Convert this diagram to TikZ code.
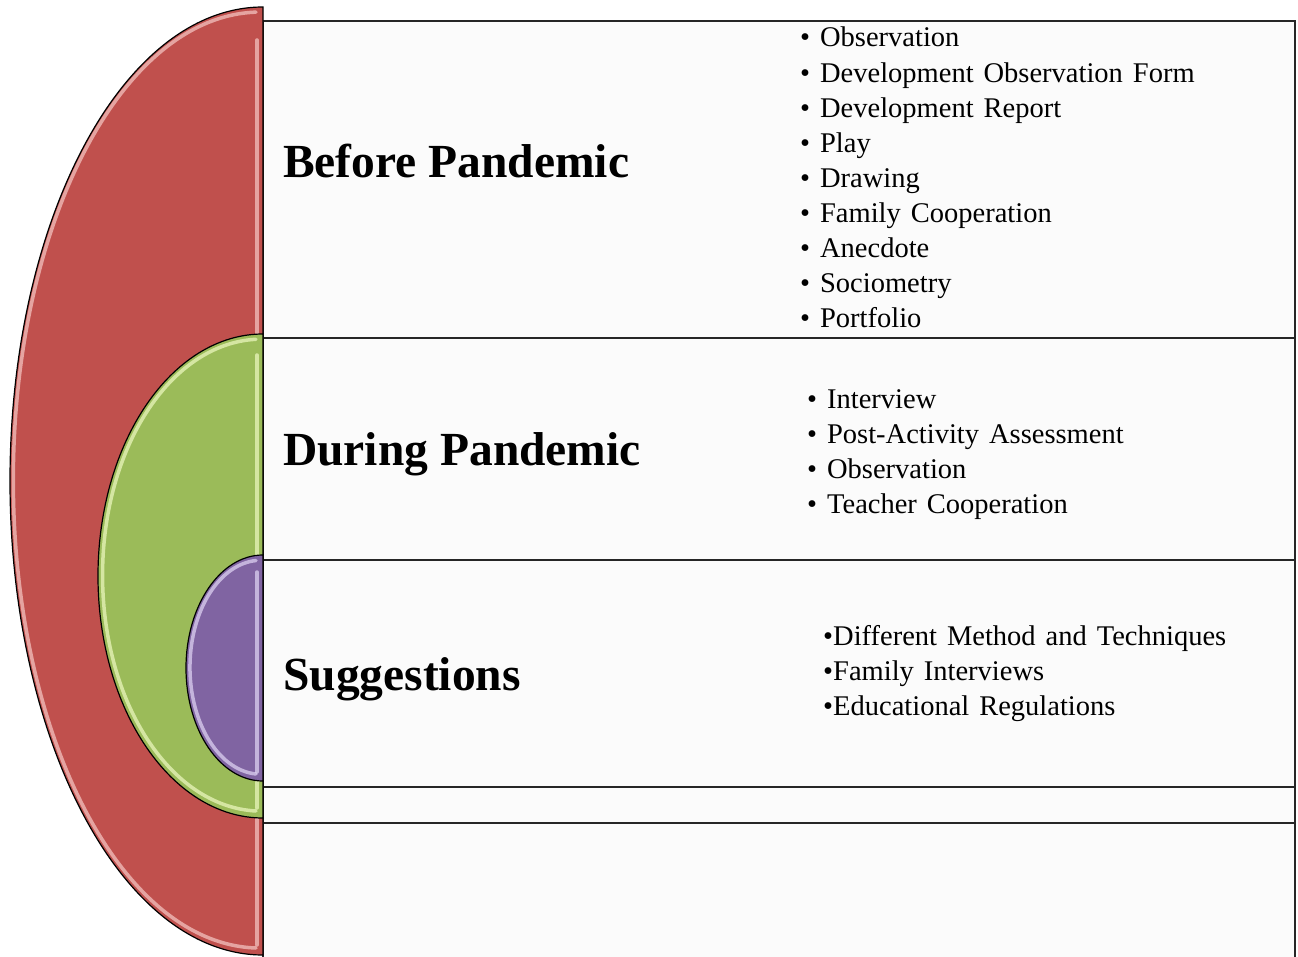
\documentclass[tikz,border=0pt]{standalone}
\usepackage{fontspec}
\setmainfont{Liberation Serif}
\newfontfamily\listfont{Liberation Serif}[WordSpace=1.4]

\definecolor{rotton}{HTML}{C0504D}
\definecolor{rothell}{HTML}{F6C9C6}
\definecolor{gruenton}{HTML}{9BBB59}
\definecolor{gruenhell}{HTML}{EEF9C2}
\definecolor{lilaton}{HTML}{8064A2}
\definecolor{lilahell}{HTML}{E2D6F5}
\definecolor{kasten}{HTML}{FBFBFB}

\tikzset{
    kopf/.style={anchor=base west, inner sep=0pt, font=\bfseries\fontsize{47.5}{50}\selectfont},
    punkt/.style={anchor=base west, inner sep=0pt, font=\listfont\fontsize{28.5}{34}\selectfont},
    feld/.style={draw=black!85, line width=1.8pt, fill=kasten},
    glanz/.style={line width=3.5pt, opacity=0.7, line cap=round}
}

\begin{document}
\begin{tikzpicture}[x=1pt, y=-1pt]
        \useasboundingbox (0, 0) rectangle (1298, 957);
        \clip (0, 0) rectangle (1298, 957);
        \fill[white] (0, 0) rectangle (1298, 957);

        % Kaesten
        \draw[feld] (263, 21) rectangle (1295, 338);
        \draw[feld] (263, 338) rectangle (1295, 560);
        \draw[feld] (263, 560) rectangle (1295, 787);
        \draw[feld] (263, 787) rectangle (1295, 823);
        \draw[feld] (263, 823) rectangle (1295, 975);

        % Halbkreis rot
        \draw[fill=rotton, line width=1.2pt] (263, 955) arc[start angle=90, end angle=270, x radius=253, y radius=474] -- cycle;
        \draw[glanz, rothell] (256, 948) arc[start angle=91, end angle=269, x radius=247, y radius=468];
        \draw[glanz, rothell] (257, 40) -- (257, 945);

        % Halbkreis gruen
        \draw[fill=gruenton, line width=1.2pt] (263, 818) arc[start angle=90, end angle=270, x radius=165, y radius=242] -- cycle;
        \draw[glanz, gruenhell] (256, 811) arc[start angle=92, end angle=268, x radius=159, y radius=236];
        \draw[glanz, gruenhell] (257, 355) -- (257, 808);

        % Halbkreis lila
        \draw[fill=lilaton, line width=1.2pt] (263, 781) arc[start angle=90, end angle=270, x radius=77, y radius=113] -- cycle;
        \draw[glanz, lilahell] (256, 774) arc[start angle=94, end angle=266, x radius=71, y radius=107];
        \draw[glanz, lilahell] (257, 572) -- (257, 772);

        % Ueberschriften
        \node[kopf] (vor) at (283, 178) {Before Pandemic};
        \node[kopf] (waehrend) at (283, 465) {During Pandemic};
        \node[kopf] (vorschlag) at (283, 690) {Suggestions};

        % Listen
        \foreach \t [count=\i] in {Observation, Development Observation Form, Development Report, Play, Drawing, Family Cooperation, Anecdote, Sociometry, Portfolio}
            \node[punkt] (vor\i) at (800, {47+35.1*(\i-1)}) {• \t};
        \foreach \t [count=\i] in {Interview, Post-Activity Assessment, Observation, Teacher Cooperation}
            \node[punkt] (waehrend\i) at (807, {408+35*(\i-1)}) {• \t};
        \foreach \t [count=\i] in {Different Method and Techniques, Family Interviews, Educational Regulations}
            \node[punkt] (vorschlag\i) at (823, {645+35*(\i-1)}) {•\t};

    \end{tikzpicture}
\end{document}
